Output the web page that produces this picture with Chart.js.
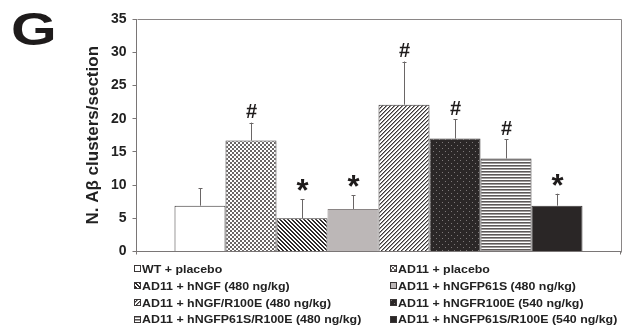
<!DOCTYPE html>
<html>
<head>
<meta charset="utf-8">
<script src="https://cdn.jsdelivr.net/npm/chart.js@4.4.1/dist/chart.umd.min.js"></script>
<style>
    body { margin: 0; background: #fff; }
    #wrap { position: relative; width: 623px; height: 332px; overflow: hidden; font-family: "Liberation Sans", Arial, sans-serif; }
    #chart { position: absolute; left: 0; top: 0; }
    #panel { position: absolute; left: 11px; top: 6px; font-size: 47px; line-height: 46px; font-weight: bold; color: #1e1b1b; transform: scaleX(1.25); transform-origin: left top; }
    .leg { position: absolute; height: 16.8px; display: flex; align-items: center; white-space: nowrap; }
    .leg canvas { display: block; margin-right: 1px; }
    .leg span { display: inline-block; font-size: 10.5px; font-weight: bold; color: #222; transform: scaleX(1.18); transform-origin: left center; }
</style>
</head>
<body>
<div id="wrap">
    <canvas id="chart" width="623" height="332"></canvas>
    <div id="panel">G</div>
    <div id="legend"></div>
</div>
<script>
const groups = [
    'WT + placebo',
    'AD11 + placebo',
    'AD11 + hNGF (480 ng/kg)',
    'AD11 + hNGFP61S (480 ng/kg)',
    'AD11 + hNGF/R100E (480 ng/kg)',
    'AD11 + hNGFR100E (540 ng/kg)',
    'AD11 + hNGFP61S/R100E (480 ng/kg)',
    'AD11 + hNGFP61S/R100E (540 ng/kg)'
];
const means = [6.9, 16.7, 5.0, 6.4, 22.1, 17.0, 14.0, 6.9];
const sem = [2.6, 2.7, 2.9, 2.1, 6.5, 2.9, 2.9, 1.8];
const marks = ['', '#', '*', '*', '#', '#', '#', '*'];
const fills = ['white', 'checker', 'diagDown', 'grey', 'diagUp', 'dots', 'stripes', 'black'];
const yTicks = [0, 5, 10, 15, 20, 25, 30, 35];

// small tiles -> canvas patterns
function makeFill(ctx, kind) {
    if (kind === 'white') return '#ffffff';
    if (kind === 'grey') return '#bcb7b7';
    if (kind === 'black') return '#2a2626';
    const t = document.createElement('canvas');
    const g = t.getContext('2d');
    if (kind === 'checker') {
        t.width = 4; t.height = 4;
        g.fillStyle = '#fff'; g.fillRect(0, 0, 4, 4);
        g.fillStyle = '#6a6666';
        g.fillRect(0, 0, 2, 2); g.fillRect(2, 2, 2, 2);
    } else if (kind === 'diagDown') {
        t.width = 4; t.height = 4;
        g.fillStyle = '#fff'; g.fillRect(0, 0, 4, 4);
        g.fillStyle = '#2e2a2a';
        for (let i = 0; i < 4; i++) { g.fillRect(i, i, 1, 1); g.fillRect((i + 1) % 4, i, 1, 1); }
    } else if (kind === 'diagUp') {
        t.width = 4; t.height = 4;
        g.fillStyle = '#fff'; g.fillRect(0, 0, 4, 4);
        for (let i = 0; i < 4; i++) {
            g.fillStyle = '#3a3636'; g.fillRect(3 - i, i, 1, 1);
            g.fillStyle = '#9a9696'; g.fillRect((4 - i) % 4, i, 1, 1);
        }
    } else if (kind === 'dots') {
        t.width = 6; t.height = 6;
        g.fillStyle = '#2b2727'; g.fillRect(0, 0, 6, 6);
        g.fillStyle = '#7d7878';
        g.fillRect(1, 1, 1, 1); g.fillRect(4, 4, 1, 1);
    } else if (kind === 'stripes') {
        t.width = 1; t.height = 3;
        g.fillStyle = '#5c5858'; g.fillRect(0, 0, 1, 1);
        g.fillStyle = '#a09c9c'; g.fillRect(0, 1, 1, 1);
        g.fillStyle = '#fff'; g.fillRect(0, 2, 1, 1);
    }
    return ctx.createPattern(t, 'repeat');
}

// error bars (upper only) + significance marks
const errorBars = {
    id: 'errorBars',
    afterDatasetsDraw(chart) {
        const ctx = chart.ctx;
        const y = chart.scales.y;
        ctx.save();
        chart.data.datasets.forEach((ds, i) => {
            const bar = chart.getDatasetMeta(i).data[0];
            const top = y.getPixelForValue(means[i] + sem[i]);
            const x = Math.round(bar.x) + 0.5;
            ctx.strokeStyle = '#6a6666';
            ctx.lineWidth = 1;
            ctx.beginPath();
            ctx.moveTo(x, bar.y);
            ctx.lineTo(x, top);
            ctx.moveTo(x - 2, Math.round(top) + 0.5);
            ctx.lineTo(x + 2, Math.round(top) + 0.5);
            ctx.stroke();
            if (!marks[i]) return;
            ctx.fillStyle = '#1e1b1b';
            ctx.textAlign = 'center';
            ctx.textBaseline = 'alphabetic';
            if (marks[i] === '#') {
                ctx.font = 'bold 20px "Liberation Sans", Arial, sans-serif';
                ctx.fillText('#', x, top - 4.5);
            } else {
                ctx.font = 'bold 31px "Liberation Sans", Arial, sans-serif';
                ctx.fillText('*', x, top + 2);
            }
        });
        ctx.restore();
    }
};

// top / right frame of the plot area
const plotFrame = {
    id: 'plotFrame',
    afterDraw(chart) {
        const a = chart.chartArea;
        const ctx = chart.ctx;
        ctx.save();
        ctx.strokeStyle = '#8a8686';
        ctx.lineWidth = 1;
        ctx.beginPath();
        ctx.moveTo(Math.round(a.left) + 0.5, Math.round(a.top) + 0.5);
        ctx.lineTo(Math.round(a.right) + 0.5, Math.round(a.top) + 0.5);
        ctx.lineTo(Math.round(a.right) + 0.5, Math.round(a.bottom) + 0.5);
        ctx.stroke();
        ctx.restore();
    }
};

function initChart() {
    const canvas = document.getElementById('chart');
    const ctx = canvas.getContext('2d');

    const datasets = groups.map((name, i) => ({
        label: name,
        data: [means[i]],
        backgroundColor: makeFill(ctx, fills[i]),
        borderColor: fills[i] === 'grey' ? '#8a8585' : '#3a3636',
        borderWidth: 1,
        categoryPercentage: 0.843,
        barPercentage: 1
    }));

    new Chart(canvas, {
        type: 'bar',
        data: { labels: [''], datasets: datasets },
        options: {
            responsive: false,
            animation: false,
            devicePixelRatio: 1,
            layout: { padding: { left: 83, top: 19, right: 2.5, bottom: 77.5 } },
            plugins: { legend: { display: false }, tooltip: { enabled: false } },
            scales: {
                x: {
                    ticks: { display: false },
                    grid: { drawOnChartArea: false, offset: true, tickLength: 3, color: '#7a7676' },
                    border: { color: '#7a7676' },
                    afterFit: (s) => { s.height = 3; }
                },
                y: {
                    min: yTicks[0],
                    max: yTicks[yTicks.length - 1],
                    afterBuildTicks: (s) => { s.ticks = yTicks.map(v => ({ value: v })); },
                    ticks: {
                        padding: 6,
                        color: '#222',
                        font: { family: '"Liberation Sans", Arial, sans-serif', size: 14, weight: 'bold' }
                    },
                    grid: { drawOnChartArea: false, tickLength: 4, color: '#7a7676' },
                    border: { color: '#7a7676' },
                    title: {
                        display: true,
                        text: 'N. Aβ clusters/section',
                        color: '#222',
                        padding: 0,
                        font: { family: '"Liberation Sans", Arial, sans-serif', size: 17, weight: 'bold' }
                    },
                    afterFit: (s) => { s.width = 53.5; }
                }
            }
        },
        plugins: [errorBars, plotFrame]
    });
}

// two-column legend under the plot
function initLegend() {
    const box = document.getElementById('legend');
    const rowsY = [269, 285.8, 302.6, 319.4];
    const cols = [134, 390];
    groups.forEach((name, i) => {
        const item = document.createElement('div');
        item.className = 'leg';
        item.style.left = cols[i % 2] + 'px';
        item.style.top = (rowsY[Math.floor(i / 2)] - 8.4) + 'px';
        const sw = document.createElement('canvas');
        sw.width = 7; sw.height = 7;
        const g = sw.getContext('2d');
        g.fillStyle = makeFill(g, fills[i]);
        g.fillRect(0, 0, 7, 7);
        g.strokeStyle = '#3a3636';
        g.strokeRect(0.5, 0.5, 6, 6);
        const label = document.createElement('span');
        label.textContent = name;
        item.appendChild(sw);
        item.appendChild(label);
        box.appendChild(item);
    });
}

document.addEventListener('DOMContentLoaded', () => {
    initChart();
    initLegend();
});
</script>
</body>
</html>
